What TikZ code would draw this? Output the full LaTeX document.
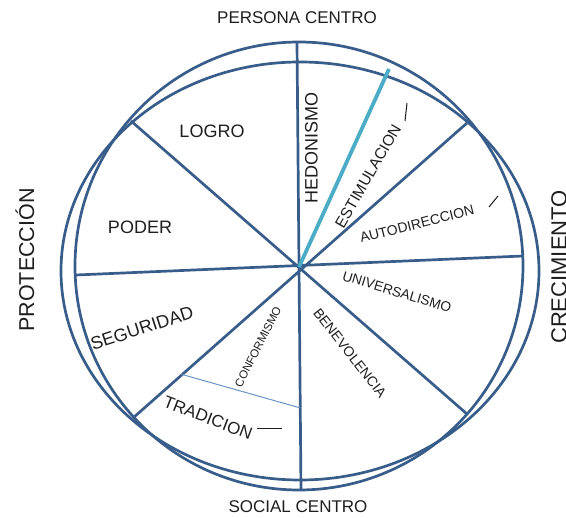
\documentclass[tikz,border=0pt]{standalone}
\usepackage{fontspec}
\setmainfont{Liberation Sans}
\usetikzlibrary{calc}

\definecolor{wheelblue}{HTML}{385D8A}
\definecolor{stimcyan}{HTML}{4BACC6}
\definecolor{thinblue}{HTML}{6A93C2}
\definecolor{inktext}{HTML}{1E1E1E}

\tikzset{
  rim/.style={draw=wheelblue,line width=2.7pt},
  spoke/.style={draw=wheelblue,line width=2.7pt},
  tick/.style={draw=inktext,line width=1pt},
  lbl/.style={text=inktext,inner sep=0pt,font=\fontsize{#1}{#1}\selectfont},
}

\begin{document}
\begin{tikzpicture}[x=1pt,y=-1pt]
  \useasboundingbox (0,0) rectangle (566,518);
  \coordinate (o)    at (299,267);
  \coordinate (top)  at (297,42);
  \coordinate (bot)  at (301,490);
  \coordinate (lft)  at (76,275);
  \coordinate (rgt)  at (523,256);
  \coordinate (nw)   at (131,121);
  \coordinate (se)   at (467,414);
  \coordinate (ne)   at (467,123);
  \coordinate (sw)   at (133,418);
  \coordinate (stim) at (389,69);

  \draw[rim] (299,266) circle (224);
  \draw[rim] (300,271) ellipse [x radius=239, y radius=209];

  \path[spoke] (top) -- (bot) (lft) -- (rgt) (nw) -- (se) (ne) -- (sw);
  \draw[stimcyan,line width=3.8pt] (o) -- (stim);
  \coordinate (trdl) at ($(o)!0.71!(sw)$);
  \coordinate (trdr) at ($(o)!0.632!(bot)$);
  \draw[thinblue,line width=1pt] (trdl) -- (trdr);

  \node[lbl=17] (persona) at (297,18) {PERSONA CENTRO};
  \node[lbl=17] (social) at (298,507) {SOCIAL CENTRO};
  \node[lbl=21.5,rotate=90] (proteccion) at (25,260) {PROTECCIÓN};
  \node[lbl=22,rotate=90] (crecimiento) at (559,267) {CRECIMIENTO};

  \node[lbl=18] (logro) at (212,131) {LOGRO};
  \node[lbl=18] (poder) at (140,227) {PODER};
  \node[lbl=18,rotate=90] (hedonismo) at (311.5,148) {HEDONISMO};
  \node[lbl=15.5,rotate=60] (estimulacion) at (368,176) {ESTIMULACION};
  \node[lbl=14,rotate=14] (autodireccion) at (417,224) {AUTODIRECCION};
  \node[lbl=13.7,rotate=-17] (universalismo) at (397,292) {UNIVERSALISMO};
  \node[lbl=14,rotate=-52] (benevolencia) at (350,353) {BENEVOLENCIA};
  \node[lbl=18,rotate=18] (seguridad) at (142,328) {SEGURIDAD};
  \node[lbl=11.5,rotate=63] (conformismo) at (258,347) {CONFORMISMO};
  \node[lbl=17,rotate=-21] (tradicion) at (208,418) {TRADICION};

  \draw[tick] (405,121) -- (407,103);
  \draw[tick] (489,207) -- (498,196);
  \draw[tick] (257,429) -- (282,429);
\end{tikzpicture}
\end{document}
